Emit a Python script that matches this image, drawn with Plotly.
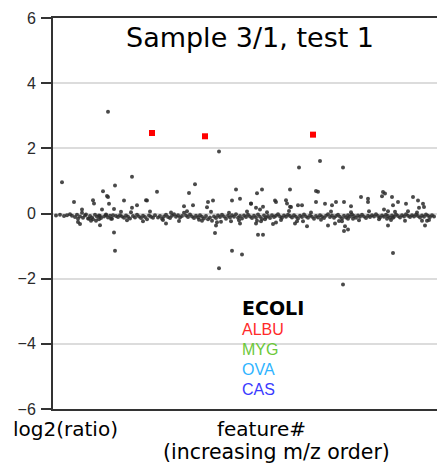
import plotly.graph_objects as go

# ---- data (feature #, log2 ratio) ----
base_feat = [56,60,64,67,70,72,75,77,80,83,85,88,90,92,95,97,99,101,104,106,
             108,110,112,116,118,120,122,124,126,128,130,133,135,137,139,141,143,145,147,149,
             151,153,155,158,160,162,164,166,168,170,172,174,176,178,180,182,184,186,188,190,
             192,194,196,198,200,202,204,206,208,210,212,214,216,218,220,222,224,226,228,230,
             232,234,236,238,240,242,244,246,248,250,252,254,256,258,260,262,264,266,268,270,
             272,274,276,278,280,282,284,286,288,290,292,294,296,298,300,302,304,306,308,310,
             312,314,316,318,320,322,324,326,328,330,332,334,336,338,340,342,344,346,348,350,
             352,354,356,358,360,362,364,366,368,370,372,374,376,378,380,382,384,386,388,390,
             392,394,396,398,400,402,404,406,408,410,412,414,416,418,420,422,424,426,428,430,
             432,434,
             121,127,131,143,150,163,171,179,187,199,211,221,229,239,247,257,267,281,289,303,
             311,321,331,339,351,359,369,379,395,405,417,429]
base_val = [-0.06,-0.04,-0.08,-0.05,-0.02,-0.07,-0.11,-0.04,-0.09,-0.13,
            -0.06,-0.15,-0.08,-0.12,-0.04,-0.10,-0.06,-0.14,-0.09,-0.03,
            -0.12,-0.07,-0.16,-0.08,-0.11,-0.05,-0.09,-0.13,-0.06,-0.10,
            -0.15,-0.08,-0.12,-0.04,-0.09,-0.14,-0.07,-0.11,-0.18,-0.06,
            -0.10,-0.13,-0.05,-0.12,-0.08,-0.16,-0.09,-0.04,-0.11,-0.14,
            -0.07,-0.02,-0.10,-0.05,-0.12,-0.08,0.02,-0.06,-0.11,-0.03,
            -0.09,-0.14,-0.07,-0.12,-0.05,-0.10,-0.15,-0.08,-0.18,-0.12,
            -0.22,-0.09,-0.14,-0.06,-0.11,-0.04,-0.09,-0.16,-0.07,-0.12,
            -0.05,-0.10,-0.02,-0.13,-0.08,-0.15,-0.06,-0.11,-0.04,-0.09,
            -0.14,-0.07,-0.12,-0.03,-0.10,-0.17,-0.06,-0.12,-0.08,-0.14,
            -0.05,-0.11,-0.07,-0.02,-0.09,-0.13,-0.06,-0.10,-0.04,-0.08,
            -0.12,-0.05,-0.10,-0.15,-0.07,-0.11,-0.03,-0.09,-0.13,-0.06,
            -0.10,-0.16,-0.08,-0.12,-0.05,-0.09,-0.14,-0.07,-0.02,-0.11,
            -0.06,-0.13,-0.08,-0.04,-0.10,-0.15,-0.07,-0.12,-0.05,-0.09,
            -0.03,-0.08,-0.13,-0.06,-0.10,-0.04,-0.09,-0.14,-0.07,-0.11,
            -0.05,-0.09,-0.02,-0.08,-0.12,-0.06,-0.10,-0.04,-0.08,-0.13,
            -0.06,-0.10,-0.03,-0.08,-0.12,-0.05,-0.09,-0.02,-0.07,-0.11,
            -0.05,-0.09,-0.04,-0.08,-0.12,-0.06,-0.10,-0.03,-0.07,-0.11,
            -0.05,-0.09,
            0.05,-0.21,0.04,-0.24,0.06,-0.20,0.03,-0.23,0.07,-0.19,
            0.05,-0.25,0.02,-0.21,0.06,-0.22,0.04,-0.20,0.08,-0.24,
            0.03,-0.19,0.06,-0.23,0.04,-0.21,0.07,-0.18,0.05,-0.22,
            0.03,-0.20]

spread_feat = [62,74,78,82,82,78,80,86,89,91,93,93,94,96,100,99,100,102,103,106,
               107,108,109,111,113,114,115,114,115,108,124,132,132,137,146,157,147,189,195,184,
               193,208,213,207,166,216,215,219,219,232,242,236,232,240,258,263,257,262,251,256,
               260,263,275,276,290,299,320,316,318,316,325,332,343,343,361,368,368,383,385,382,
               392,413,418,423,419,398,406,393,422,427,425,393,286,287,290,298,302,256,261,265,
               273,295,297,307,328,335,344,336,351,388,408,342,348,353,345,348,344,387,388,393,
               202,217,231,240,251,276,291,384,391,424]
spread_val = [0.96,0.35,-0.26,0.12,0.02,-0.16,-0.32,-0.03,-0.16,-0.22,0.41,-0.18,0.31,-0.22,-0.08,-0.18,-0.36,0.12,0.68,-0.05,
              0.54,0.51,0.30,-0.16,-0.05,0.14,0.86,-0.58,-1.14,3.12,0.40,1.13,0.18,0.25,0.41,0.67,0.40,0.63,0.90,0.22,
              0.25,0.35,0.40,0.19,-0.31,-0.37,-0.60,-1.68,1.90,-1.14,-1.26,0.74,0.40,0.45,-0.65,-0.65,0.62,0.74,0.30,0.18,
              0.12,0.21,0.40,0.35,0.74,1.41,1.61,0.69,0.67,0.35,0.30,0.25,1.41,-2.18,0.51,0.45,0.35,0.66,0.61,0.53,
              0.51,0.51,0.40,0.30,0.18,0.35,0.30,0.25,-0.22,-0.22,-0.37,-1.21,0.41,0.31,0.21,0.25,0.25,-0.31,-0.24,-0.18,
              -0.32,-0.31,-0.24,-0.39,-0.37,-0.31,0.35,0.35,0.22,0.07,0.07,-0.24,-0.16,-0.16,-0.39,-0.49,-0.54,-0.16,-0.37,-0.13,
              -0.22,-0.27,-0.24,-0.31,0.31,-0.28,0.20,0.12,-0.20,0.20]

albu_feat = [152, 205, 313]
albu_val = [2.47, 2.37, 2.42]

yticks = [-6, -4, -2, 0, 2, 4, 6]

legend_names = ["ECOLI", "ALBU", "MYG", "OVA", "CAS"]
legend_colors = ["#000000", "#ff2a2a", "#6cc83a", "#2fb4ff", "#3a3aff"]

fig = go.Figure()
fig.add_trace(go.Scatter(x=base_feat + spread_feat, y=base_val + spread_val, mode="markers",
                         marker=dict(size=4, color="#2a2a2a", opacity=0.85), hoverinfo="skip"))
fig.add_trace(go.Scatter(x=albu_feat, y=albu_val, mode="markers",
                         marker=dict(size=6, color="#ff0000", symbol="square"), hoverinfo="skip"))

fig.update_layout(
    width=438, height=464,
    margin=dict(l=53, r=1, t=18, b=55),
    paper_bgcolor="white", plot_bgcolor="white",
    showlegend=False,
    xaxis=dict(range=[53, 437], showticklabels=False, ticks="", showgrid=False, zeroline=False,
               showline=True, linecolor="#333333", linewidth=2, mirror=True),
    yaxis=dict(range=[-6, 6], tickvals=yticks, ticks="outside", ticklen=10, tickwidth=1.5,
               tickcolor="#333333", showline=True, linecolor="#333333", linewidth=2,
               showgrid=True, gridcolor="#dcdcdc", gridwidth=1.5,
               zeroline=True, zerolinecolor="#dcdcdc", zerolinewidth=1.5,
               tickfont=dict(family="Liberation Sans", size=16, color="#2a2a2a"),
               ticklabelstandoff=2),
)

fig.add_annotation(text="Sample 3/1, test 1", xref="paper", yref="paper", x=0.512, y=0.949,
                   showarrow=False, xanchor="center", yanchor="middle",
                   font=dict(family="DejaVu Sans", size=27, color="#000000"))

fig.add_annotation(text="log2(ratio)", xref="paper", yref="paper", x=-0.110, y=-0.050,
                   showarrow=False, xanchor="left", yanchor="middle",
                   font=dict(family="DejaVu Sans", size=20, color="#000000"))
fig.add_annotation(text="feature#", xref="paper", yref="paper", x=0.542, y=-0.050,
                   showarrow=False, xanchor="center", yanchor="middle",
                   font=dict(family="DejaVu Sans", size=20, color="#000000"))
fig.add_annotation(text="(increasing m/z order)", xref="paper", yref="paper", x=0.581, y=-0.110,
                   showarrow=False, xanchor="center", yanchor="middle",
                   font=dict(family="DejaVu Sans", size=20.5, color="#000000"))

leg_y = [-2.89, -3.56, -4.18, -4.79, -5.40]
for i, (name, col) in enumerate(zip(legend_names, legend_colors)):
    if i == 0:
        fnt = dict(family="DejaVu Sans", size=19, color=col)
        txt = "<b>" + name + "</b>"
    else:
        fnt = dict(family="Liberation Sans", size=16, color=col)
        txt = name
    fig.add_annotation(text=txt, x=240, y=leg_y[i], xref="x", yref="y",
                       showarrow=False, xanchor="left", yanchor="middle", font=fnt)

fig.write_html("out.html")
